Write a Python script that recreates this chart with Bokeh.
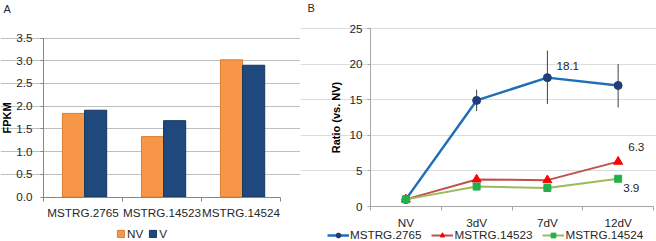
import numpy as np
from bokeh.plotting import figure
from bokeh.layouts import row
from bokeh.models import (Range1d, FixedTicker, Legend, LegendItem, Label,
                          NumeralTickFormatter)
from bokeh.embed import file_html
from bokeh.resources import INLINE

# ---------------- data ----------------
genes = ["MSTRG.2765", "MSTRG.14523", "MSTRG.14524"]
fpkm_nv = [1.84, 1.33, 3.02]
fpkm_v = [1.91, 1.68, 2.90]
fpkm_ticks = [0.0, 0.5, 1.0, 1.5, 2.0, 2.5, 3.0, 3.5]

timepoints = ["NV", "3dV", "7dV", "12dV"]
ratio_2765 = [1.0, 14.9, 18.1, 17.0]
ratio_2765_lo = [1.0, 13.4, 14.4, 13.9]
ratio_2765_hi = [1.0, 16.4, 21.9, 20.0]
ratio_14523 = [1.0, 3.8, 3.7, 6.3]
ratio_14524 = [1.0, 2.8, 2.6, 3.9]
ratio_ticks = [0, 5, 10, 15, 20, 25]

FONT = "Liberation Sans"
TXT = "#262626"
FS = "11.7px"


def frame_range(lo, hi, px_lo, px_hi, total):
    """Range whose [lo, hi] lands on pixels [px_lo, px_hi] of a canvas of size total."""
    unit = (px_hi - px_lo) / (hi - lo)
    return Range1d(lo - px_lo / unit, hi + (total - px_hi) / unit)


# ---------------- panel A ----------------
W1, H = 300, 241
p1 = figure(width=W1, height=H, title=None,
            x_range=frame_range(0, len(genes), 43, 280, W1),
            y_range=frame_range(0, 3.5, H - 196.5, H - 37.5, H),
            output_backend="svg", toolbar_location=None,
            min_border=0, min_border_left=0, min_border_right=0,
            min_border_top=0, min_border_bottom=0)
p1.outline_line_color = None

xs1 = np.arange(len(genes)) + 0.5
r_nv = p1.vbar(x=xs1 - 0.12, top=fpkm_nv, width=0.28, fill_color="#F79646",
               line_color="#d97f35", line_width=1)
r_v = p1.vbar(x=xs1 + 0.16, top=fpkm_v, width=0.28, fill_color="#1F497D",
              line_color="#17375e", line_width=1)

p1.xgrid.visible = False
p1.ygrid.ticker = FixedTicker(ticks=fpkm_ticks[1:])
p1.ygrid.bounds = (0, len(genes))
p1.ygrid.grid_line_color = "#bfbfbf"
p1.ygrid.grid_line_width = 1
p1.ygrid.level = "underlay"

xa = p1.xaxis[0]
xa.fixed_location = 0
xa.bounds = (0, len(genes))
xa.ticker = FixedTicker(ticks=list(xs1), minor_ticks=list(range(len(genes) + 1)))
xa.major_label_overrides = {float(x): g for x, g in zip(xs1, genes)}
xa.major_tick_out = 0
xa.major_tick_in = 0
xa.minor_tick_out = 4
xa.minor_tick_in = 0
xa.minor_tick_line_color = "#868686"
xa.axis_line_color = "#868686"
xa.major_label_standoff = 5
xa.major_label_text_font = FONT
xa.major_label_text_font_size = FS
xa.major_label_text_color = TXT

ya = p1.yaxis[0]
ya.fixed_location = 0
ya.bounds = (0, 3.5)
ya.ticker = FixedTicker(ticks=fpkm_ticks)
ya.formatter = NumeralTickFormatter(format="0.0")
ya.major_tick_out = 3
ya.major_tick_in = 0
ya.minor_tick_out = 0
ya.major_tick_line_color = "#868686"
ya.axis_line_color = "#868686"
ya.major_label_standoff = 8
ya.major_label_text_font = FONT
ya.major_label_text_font_size = FS
ya.major_label_text_color = TXT
ya.axis_label = "FPKM"
ya.axis_label_text_font = FONT
ya.axis_label_text_font_size = "11px"
ya.axis_label_text_font_style = "bold"
ya.axis_label_text_color = "black"
ya.axis_label_standoff = 0

leg1 = Legend(items=[LegendItem(label="NV", renderers=[r_nv]),
                     LegendItem(label="V", renderers=[r_v])],
              location=(116, 1), orientation="horizontal",
              glyph_width=9, glyph_height=9, label_standoff=2, spacing=5,
              padding=0, margin=0, border_line_color=None,
              background_fill_alpha=0, label_text_font=FONT,
              label_text_font_size=FS, label_text_color=TXT,
              label_height=12, label_width=5)
p1.add_layout(leg1, "center")

p1.add_layout(Label(x=-0.506, y=4.149, text="A", text_font=FONT,
                    text_font_size="11px", text_color=TXT,
                    text_baseline="middle", text_align="left"))

# ---------------- panel B ----------------
W2 = 356
p2 = figure(width=W2, height=H, title=None,
            x_range=frame_range(0, len(timepoints), 70, 353, W2),
            y_range=frame_range(0, 25, H - 206, H - 28, H),
            output_backend="svg", toolbar_location=None,
            min_border=0, min_border_left=0, min_border_right=0,
            min_border_top=0, min_border_bottom=0)
p2.outline_line_color = None

xs2 = np.arange(len(timepoints)) + 0.5

p2.xgrid.visible = False
p2.ygrid.ticker = FixedTicker(ticks=ratio_ticks[1:])
p2.ygrid.bounds = (0, len(timepoints))
p2.ygrid.grid_line_color = "#dcdcdc"
p2.ygrid.level = "underlay"

p2.segment(x0=xs2, y0=ratio_2765_lo, x1=xs2, y1=ratio_2765_hi,
           line_color="#404040", line_width=1)

l_a = p2.line(xs2, ratio_2765, line_color="#1F6FB8", line_width=2.5)
m_a = p2.scatter(xs2, ratio_2765, marker="circle", size=8,
                 fill_color="#1F3D7A", line_color="#1F3D7A")
l_b = p2.line(xs2, ratio_14523, line_color="#C0504D", line_width=2)
m_b = p2.scatter(xs2, ratio_14523, marker="triangle", size=9,
                 fill_color="#FF0000", line_color="#FF0000")
l_c = p2.line(xs2, ratio_14524, line_color="#9BBB59", line_width=2)
m_c = p2.scatter(xs2, ratio_14524, marker="square", size=7,
                 fill_color="#22B14C", line_color="#22B14C")

xb = p2.xaxis[0]
xb.fixed_location = 0
xb.bounds = (0, len(timepoints))
xb.ticker = FixedTicker(ticks=list(xs2), minor_ticks=list(range(len(timepoints) + 1)))
xb.major_label_overrides = {float(x): t for x, t in zip(xs2, timepoints)}
xb.major_tick_out = 0
xb.major_tick_in = 0
xb.minor_tick_out = 4
xb.minor_tick_in = 0
xb.minor_tick_line_color = "#a6a6a6"
xb.axis_line_color = "#a6a6a6"
xb.major_label_standoff = 5
xb.major_label_text_font = FONT
xb.major_label_text_font_size = FS
xb.major_label_text_color = TXT

yb = p2.yaxis[0]
yb.fixed_location = 0
yb.bounds = (0, 25)
yb.ticker = FixedTicker(ticks=ratio_ticks)
yb.major_tick_out = 3
yb.major_tick_in = 0
yb.minor_tick_out = 0
yb.major_tick_line_color = "#a6a6a6"
yb.axis_line_color = "#a6a6a6"
yb.major_label_standoff = 5
yb.major_label_text_font = FONT
yb.major_label_text_font_size = FS
yb.major_label_text_color = TXT
yb.axis_label = "Ratio (vs. NV)"
yb.axis_label_text_font = FONT
yb.axis_label_text_font_size = "11px"
yb.axis_label_text_font_style = "bold"
yb.axis_label_text_color = "black"
yb.axis_label_standoff = 4

leg2 = Legend(items=[LegendItem(label="MSTRG.2765", renderers=[l_a, m_a]),
                     LegendItem(label="MSTRG.14523", renderers=[l_b, m_b]),
                     LegendItem(label="MSTRG.14524", renderers=[l_c, m_c])],
              location=(27, 0), orientation="horizontal",
              glyph_width=22, glyph_height=12, label_standoff=1, spacing=10,
              padding=0, margin=0, border_line_color=None,
              background_fill_alpha=0, label_text_font=FONT,
              label_text_font_size=FS, label_text_color=TXT,
              label_height=12, label_width=5)
p2.add_layout(leg2, "center")

p2.add_layout(Label(x=xs2[2], y=ratio_2765[2], text=f"{ratio_2765[2]:.1f}",
                    x_offset=9, y_offset=12, text_font=FONT, text_font_size=FS,
                    text_color=TXT, text_baseline="middle", text_align="left"))
p2.add_layout(Label(x=xs2[3], y=ratio_14523[3], text=f"{ratio_14523[3]:.1f}",
                    x_offset=10, y_offset=15, text_font=FONT, text_font_size=FS,
                    text_color=TXT, text_baseline="middle", text_align="left"))
p2.add_layout(Label(x=xs2[3], y=ratio_14524[3], text=f"{ratio_14524[3]:.1f}",
                    x_offset=5, y_offset=-9, text_font=FONT, text_font_size=FS,
                    text_color=TXT, text_baseline="middle", text_align="left"))

p2.add_layout(Label(x=-0.890, y=27.81, text="B", text_font=FONT,
                    text_font_size="11px", text_color=TXT,
                    text_baseline="middle", text_align="left"))

layout = row(p1, p2)
open("out.html", "w").write(file_html(layout, INLINE))
